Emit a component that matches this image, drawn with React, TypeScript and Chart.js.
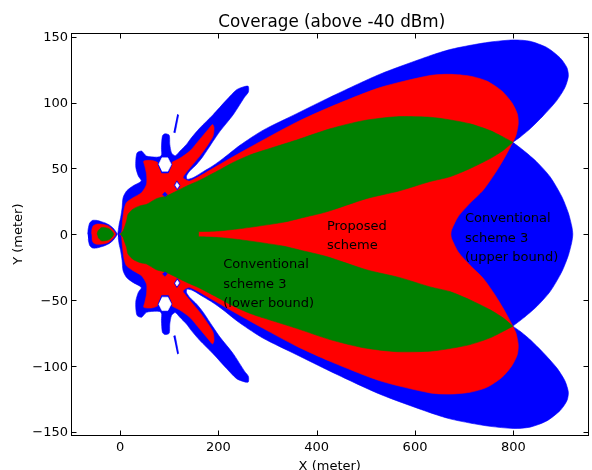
import React, { useEffect, useRef } from 'react';
import { Chart, registerables } from 'chart.js';

Chart.register(...registerables);

type Pt = [number, number];

const titleText = 'Coverage (above -40 dBm)';
const xLabel = 'X (meter)';
const yLabel = 'Y (meter)';
const xTicks = [0, 200, 400, 600, 800];
const yTicks = [-150, -100, -50, 0, 50, 100, 150];
const xRange: Pt = [-100, 953];
const yRange: Pt = [-153, 153];

const BLUE = '#0000ff';
const RED = '#ff0000';
const GREEN = '#008000';
const WHITE = '#ffffff';

// Upper halves (y >= 0) of the symmetric coverage contours, traced from the left end at y = 0.
// The meeting point (799, 69.8) is listed twice so that it stays a sharp cusp.
const blueMainUpper: Pt[] = [
  [-5, 0], [-4, 2.5], [-2, 7.6], [1, 12.6], [4, 20], [6, 27.7], [13, 32.8], [26, 36.6], [43, 40.4],
  [37, 44.2], [32, 50.5], [32, 56.8], [34.6, 61.8], [43.5, 63.1], [53.7, 59.3], [74, 58.5], [84, 59.3],
  [84, 65.6], [86, 74.5], [91, 76.2], [99.7, 75.2], [101, 68.2], [104.5, 61.8], [112, 59.5], [121.4, 63],
  [135, 68.2], [145, 73.2], [162, 80.6], [189, 90.7], [216.6, 102], [237, 109.7], [252, 112],
  [260.6, 112.3], [261, 108], [253, 104], [230, 90.7], [203, 78.1], [189, 70.5], [168.8, 59.2],
  [155.4, 53], [141.7, 48], [135, 44.2], [136.3, 41.7], [148.5, 42.9], [169, 47.5], [189, 52],
  [209.5, 57.5], [243.7, 67.5], [291, 79], [359, 91.5], [427, 104], [528.7, 121.5], [630.5, 135.5],
  [671, 140.2], [712, 143.4], [752.7, 145.9], [800, 147.5], [834, 146.5], [868, 141.8], [895, 134],
  [909, 126.5], [912, 120], [905, 111.3], [888, 101.3], [861, 90], [834, 80], [813.7, 73.7],
  [799, 69.8], [799, 69.8], [820.5, 63.7], [847.7, 54.9], [874.8, 43.6], [898.6, 28.6], [912, 16.1],
  [919, 6], [921, 0],
];
const redMainUpper: Pt[] = [
  [-2, 0], [2.8, 1.2], [4.9, 10], [8.1, 19], [13, 24], [26.4, 27.7], [43.5, 31.5], [53.7, 37.9],
  [53.7, 45.5], [50.2, 51.7], [48.2, 55.5], [64, 56], [77, 54.2], [80, 50.5], [86, 47.5], [96, 47.5],
  [102, 51], [104.5, 54.2], [121.4, 57.6], [141.7, 63.1], [162, 72], [179, 79.5], [188, 83.3],
  [191, 80.8], [189, 74.5], [179, 68.2], [162, 59.3], [145, 51.7], [131.6, 45.5], [128, 42.9],
  [141.7, 40.4], [189, 50], [223.3, 57.4], [291, 71.5], [359, 85], [427, 96.5], [528.7, 111.3],
  [630.5, 120.5], [671, 121.4], [712, 120], [746, 116.3], [776.5, 108.8], [796.8, 100], [808.2, 91.3],
  [810, 83.8], [805.4, 75], [799, 69.8], [799, 69.8], [783, 58.6], [762.8, 46.2], [739, 33.6],
  [712, 23.6], [688, 13.5], [674.6, 3.5], [673, 0],
];
const greenMainUpper: Pt[] = [
  [0, 0], [6, 2.5], [13, 10], [16, 15], [26, 19], [40, 21.5], [54, 22.7], [74, 27], [94, 29],
  [115, 32.8], [135, 36.5], [162, 41], [203, 49], [230, 54.5], [263.3, 60], [291, 63.5], [359, 71.5],
  [427, 80], [494.8, 86.2], [562.7, 89.2], [630.5, 88.8], [671, 86.8], [712, 83.8], [752.7, 78.7],
  [779.7, 73.7], [799, 69.8], [799, 69.8], [779.7, 63.7], [752.7, 57.4], [712, 49.9], [671, 43.6],
  [630.5, 40], [569, 33], [501, 27], [420, 17], [365, 12], [331, 9], [250, 4.5], [200, 2.5],
  [162, 2], [160, 2],
];
const blueLobeUpper: Pt[] = [
  [-66, 0], [-65, 4], [-62, 8.5], [-56, 10.5], [-48, 10.5], [-38, 9.5], [-30, 8.5], [-22, 7],
  [-14, 4.5], [-8, 1.5], [-6, 0],
];
const redLobeUpper: Pt[] = [
  [-58, 0], [-57.5, 3.5], [-55, 6.3], [-48, 7.6], [-36, 7.5], [-24, 6.3], [-15, 3.5], [-10, 1], [-9, 0],
];
const greenLobeUpper: Pt[] = [
  [-47, 0], [-45, 2.5], [-38, 5], [-28, 4.8], [-21, 3.8], [-15, 1.5], [-13, 0],
];
// Small closed features in the upper side lobes (repeated mirrored below)
const headRing: Pt[] = [[76.5, 53], [83.5, 60], [98.5, 60], [105.5, 53], [98, 46.5], [84, 46.5]];
const headHole: Pt[] = [[78.5, 53], [85, 58], [97, 58], [104, 53], [97, 47.8], [85, 47.8]];
const smallRing: Pt[] = [[110, 37], [115.5, 40.5], [122, 37], [116, 33.5]];
const smallHole: Pt[] = [[112, 37], [115.5, 39.3], [120, 37], [116, 34.7]];
const sliver: Pt[] = [[116, 91], [119, 90.5], [112, 77], [108.5, 77.5]];
const dot: Pt[] = [[86, 30], [91, 32], [96, 30], [91, 28.5]];

// Text annotations: anchor (data x, data y of first baseline)
const annotations: { x: number; y: number; lines: string[] }[] = [
  { x: 420.8, y: 3.2, lines: ['Proposed', 'scheme'] },
  { x: 701.7, y: 8.9, lines: ['Conventional', 'scheme 3', '(upper bound)'] },
  { x: 209.7, y: -25.9, lines: ['Conventional', 'scheme 3', '(lower bound)'] },
];

const FONT = '"DejaVu Sans", "Liberation Sans", sans-serif';

// Closed outline: upper half followed by its mirror image (points on the axis are not repeated)
function mirrorClose(upper: Pt[]): Pt[] {
  const lower = upper.filter((p) => p[1] !== 0).reverse().map(([x, y]) => [x, -y] as Pt);
  return [...upper, ...lower];
}
function flipY(poly: Pt[]): Pt[] {
  return poly.map(([x, y]) => [x, -y] as Pt);
}
function fmt(v: number): string {
  return String(v).replace('-', '\u2212');
}

const shapes: { pts: Pt[]; color: string; smooth: number }[] = [
  { pts: mirrorClose(blueMainUpper), color: BLUE, smooth: 0.25 },
  { pts: mirrorClose(blueLobeUpper), color: BLUE, smooth: 0.2 },
  { pts: mirrorClose(redMainUpper), color: RED, smooth: 0.25 },
  { pts: mirrorClose(redLobeUpper), color: RED, smooth: 0.2 },
  { pts: mirrorClose(greenMainUpper), color: GREEN, smooth: 0.25 },
  { pts: mirrorClose(greenLobeUpper), color: GREEN, smooth: 0.2 },
  { pts: headRing, color: BLUE, smooth: 0 },
  { pts: flipY(headRing), color: BLUE, smooth: 0 },
  { pts: smallRing, color: BLUE, smooth: 0 },
  { pts: flipY(smallRing), color: BLUE, smooth: 0 },
  { pts: sliver, color: BLUE, smooth: 0 },
  { pts: flipY(sliver), color: BLUE, smooth: 0 },
  { pts: dot, color: BLUE, smooth: 0 },
  { pts: flipY(dot), color: BLUE, smooth: 0 },
  { pts: headHole, color: WHITE, smooth: 0 },
  { pts: flipY(headHole), color: WHITE, smooth: 0 },
  { pts: smallHole, color: WHITE, smooth: 0 },
  { pts: flipY(smallHole), color: WHITE, smooth: 0 },
];

const decorPlugin = {
  id: 'decor',
  afterDraw(chart: any) {
    const { ctx, chartArea: a, scales } = chart;
    const xs = scales.x;
    const ys = scales.y;
    ctx.save();
    ctx.strokeStyle = '#000';
    ctx.lineWidth = 1;
    const L = Math.round(a.left) + 0.5;
    const R = Math.round(a.right) - 0.5;
    const T = Math.round(a.top) + 0.5;
    const B = Math.round(a.bottom) - 0.5;
    ctx.strokeRect(L, T, R - L, B - T);
    const tl = 5;
    ctx.beginPath();
    for (const v of xTicks) {
      const px = Math.round(xs.getPixelForValue(v)) + 0.5;
      ctx.moveTo(px, B);
      ctx.lineTo(px, B - tl);
      ctx.moveTo(px, T);
      ctx.lineTo(px, T + tl);
    }
    for (const v of yTicks) {
      const py = Math.round(ys.getPixelForValue(v)) + 0.5;
      ctx.moveTo(L, py);
      ctx.lineTo(L + tl, py);
      ctx.moveTo(R, py);
      ctx.lineTo(R - tl, py);
    }
    ctx.stroke();

    ctx.fillStyle = '#000';
    ctx.textBaseline = 'alphabetic';

    // tick labels
    ctx.font = `13px ${FONT}`;
    ctx.textAlign = 'center';
    for (const v of xTicks) {
      ctx.fillText(fmt(v), xs.getPixelForValue(v), a.bottom + 15.5);
    }
    ctx.textAlign = 'right';
    for (const v of yTicks) {
      ctx.fillText(fmt(v), a.left - 3, ys.getPixelForValue(v) + 4.7);
    }

    // title and axis titles
    ctx.textAlign = 'center';
    ctx.font = `16.8px ${FONT}`;
    ctx.fillText(titleText, (a.left + a.right) / 2 + 2, 27);
    ctx.font = `13px ${FONT}`;
    ctx.fillText(xLabel, (a.left + a.right) / 2, 469.5);
    ctx.save();
    ctx.translate(21.5, (a.top + a.bottom) / 2);
    ctx.rotate(-Math.PI / 2);
    ctx.fillText(yLabel, 0, 0);
    ctx.restore();

    // annotations
    ctx.textAlign = 'left';
    for (const an of annotations) {
      const px = xs.getPixelForValue(an.x);
      const py = ys.getPixelForValue(an.y);
      an.lines.forEach((ln, i) => ctx.fillText(ln, px, py + i * 19.5));
    }
    ctx.restore();
  },
};

export default function App() {
  const ref = useRef<HTMLCanvasElement | null>(null);
  useEffect(() => {
    if (!ref.current) return;
    const n = shapes.length;
    const chart = new Chart(ref.current, {
      type: 'scatter',
      data: {
        datasets: shapes.map((s, i) => ({
          data: s.pts.map(([x, y]) => ({ x, y })),
          showLine: true,
          fill: 'shape',
          backgroundColor: s.color,
          borderColor: s.color,
          borderWidth: 0.6,
          pointRadius: 0,
          pointHoverRadius: 0,
          tension: s.smooth,
          order: n - i,
        })),
      } as any,
      options: {
        animation: false,
        responsive: false,
        devicePixelRatio: 1,
        events: [],
        layout: { padding: { left: 71, right: 3.5, top: 32.7, bottom: 34.3 } },
        plugins: { legend: { display: false }, tooltip: { enabled: false }, title: { display: false } },
        scales: {
          x: {
            type: 'linear',
            min: xRange[0],
            max: xRange[1],
            grid: { display: false },
            border: { display: false },
            ticks: { display: false },
            afterFit: (s: any) => { s.height = 0; },
          },
          y: {
            type: 'linear',
            min: yRange[0],
            max: yRange[1],
            grid: { display: false },
            border: { display: false },
            ticks: { display: false },
            afterFit: (s: any) => { s.width = 0; },
          },
        },
      } as any,
      plugins: [decorPlugin],
    });
    return () => chart.destroy();
  }, []);
  return (
    <div style={{ position: 'absolute', left: 0, top: 0, width: 592, height: 470, background: '#fff' }}>
      <canvas ref={ref} width={592} height={470} style={{ width: 592, height: 470, display: 'block' }} />
    </div>
  );
}
